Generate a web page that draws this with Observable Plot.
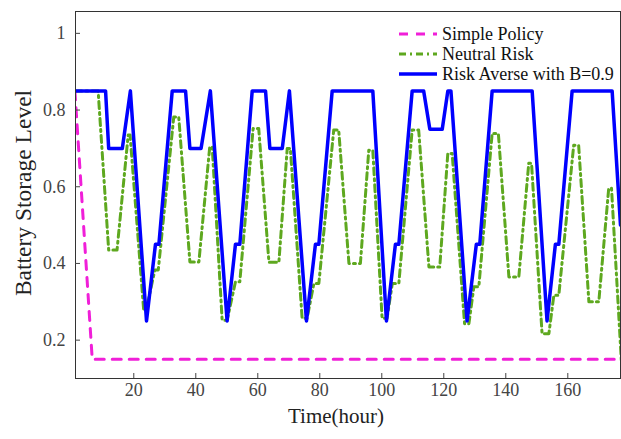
<!DOCTYPE html>
<html><head><meta charset="utf-8">
<script src="https://cdn.jsdelivr.net/npm/d3@7"></script>
<script src="https://cdn.jsdelivr.net/npm/@observablehq/plot@0.6"></script>
<style>
body{margin:0;background:#fff;}
#wrap{position:relative;width:621px;height:439px;}
#wrap svg text{font-family:"Liberation Serif","Times New Roman",serif;}
.legend{position:absolute;left:398px;top:24px;font-family:"Liberation Serif",serif;font-size:18px;color:#111;}
.legend .row{display:flex;align-items:center;height:20px;white-space:nowrap;}
.legend svg{margin-right:4px;}
</style></head><body><div id="wrap"></div>
<script>
const xTicks = [20, 40, 60, 80, 100, 120, 140, 160];
const yTicks = [0.2, 0.4, 0.6, 0.8, 1];

const simpleHours = [1, 6.6, 177];
const simpleValues = [0.85, 0.15, 0.15];

const neutralHours = [1, 8.5, 11.9, 14.6, 18.2, 18.8, 23.2, 24, 26.8, 27.9, 32.9, 34.5, 38.1, 41, 44.5, 45.3, 48.5, 50.1, 52.8, 54.2, 58.5, 60.3, 63.6, 66.8, 69.5, 70.5, 74.3, 75.9, 78.1, 79.7, 84.5, 86.1, 89.4, 93.1, 95.8, 97.1, 100.1, 101.7, 103.4, 105.5, 109.8, 111.9, 115.2, 118.7, 121.3, 122.7, 126.7, 128.1, 129.7, 131.3, 135.6, 137.6, 141, 144.2, 147.4, 148.3, 151.7, 153.9, 155.5, 157.1, 161.9, 163.5, 166.8, 170, 173.2, 174.1, 177.3];
const neutralValues = [0.85, 0.85, 0.435, 0.435, 0.735, 0.735, 0.278, 0.278, 0.383, 0.383, 0.782, 0.782, 0.404, 0.404, 0.704, 0.704, 0.252, 0.252, 0.352, 0.352, 0.752, 0.752, 0.403, 0.403, 0.70, 0.70, 0.257, 0.257, 0.348, 0.348, 0.748, 0.748, 0.40, 0.40, 0.695, 0.695, 0.257, 0.257, 0.348, 0.348, 0.748, 0.748, 0.391, 0.391, 0.687, 0.687, 0.243, 0.243, 0.339, 0.339, 0.739, 0.739, 0.365, 0.365, 0.661, 0.661, 0.217, 0.217, 0.317, 0.317, 0.708, 0.708, 0.30, 0.30, 0.596, 0.596, 0.143];

const averseHours = [1, 10.9, 11.9, 16.3, 18.9, 24.1, 27, 28.1, 32.4, 36.7, 38.1, 41.7, 44.7, 50.1, 52.8, 54.2, 58.2, 62.5, 63.9, 67.9, 70.2, 75.7, 78.6, 79.7, 84, 97.1, 101.5, 104.4, 105.5, 109.8, 113.5, 115.5, 119.5, 121.3, 122.3, 127.5, 130.5, 131.6, 135.6, 148.5, 153.3, 156, 157.1, 161.4, 174.3, 177];
const averseValues = [0.85, 0.85, 0.7, 0.7, 0.85, 0.25, 0.45, 0.45, 0.85, 0.85, 0.7, 0.7, 0.85, 0.25, 0.45, 0.45, 0.85, 0.85, 0.7, 0.7, 0.85, 0.25, 0.45, 0.45, 0.85, 0.85, 0.25, 0.45, 0.45, 0.85, 0.85, 0.75, 0.75, 0.85, 0.85, 0.25, 0.45, 0.45, 0.85, 0.85, 0.25, 0.45, 0.45, 0.85, 0.85, 0.5];

const seriesNames = ["Simple Policy", "Neutral Risk", "Risk Averse with B=0.9"];
const seriesColors = ["#f01fd8", "#5ea81f", "#0000ff"];
const seriesDash = ["9,8", "7,4,2,4", null];
const seriesWidth = [3, 3, 3.5];

const toRows = (h, v) => h.map((x, i) => ({hour: x, value: v[i]}));
const data = [toRows(simpleHours, simpleValues), toRows(neutralHours, neutralValues), toRows(averseHours, averseValues)];

const font = '"Liberation Serif", "Times New Roman", serif';

const chart = Plot.plot({
  width: 621, height: 439,
  marginLeft: 75, marginRight: 1, marginTop: 11, marginBottom: 61,
  style: {fontFamily: font, fontSize: "18px", color: "#444", background: "white"},
  x: {domain: [1.2, 177]},
  y: {domain: [0.1, 1.057]},
  marks: [
    ...data.map((d, i) => Plot.line(d, {x: "hour", y: "value", stroke: seriesColors[i], strokeWidth: seriesWidth[i], strokeDasharray: seriesDash[i], clip: true})),
    Plot.frame({stroke: "#333"}),
    Plot.axisX({ticks: xTicks, tickSize: -5, tickPadding: 10, label: null, fontFamily: font, fontSize: 18, tickFormat: d => String(d)}),
    Plot.axisY({ticks: yTicks, tickSize: -5, tickPadding: 15, label: null, fontFamily: font, fontSize: 18, tickFormat: d => String(d)}),
    Plot.text(["Time(hour)"], {text: d => d, frameAnchor: "bottom", dx: -12, dy: 44, fontSize: 21, fontFamily: font, fill: "#222"}),
    Plot.text(["Battery Storage Level"], {text: d => d, frameAnchor: "left", textAnchor: "middle", dx: -52, dy: -2, rotate: -90, fontSize: 23.5, fontFamily: font, fill: "#222"})
  ]
});
const wrap = document.getElementById("wrap");
wrap.appendChild(chart);

const legend = document.createElement("div");
legend.className = "legend";
seriesNames.forEach((name, i) => {
  const row = document.createElement("div");
  row.className = "row";
  const svg = d3.create("svg").attr("width", 40).attr("height", 20);
  svg.append("line").attr("x1", 1).attr("x2", 39).attr("y1", 10).attr("y2", 10)
    .attr("stroke", seriesColors[i]).attr("stroke-width", seriesWidth[i])
    .attr("stroke-dasharray", seriesDash[i]);
  row.appendChild(svg.node());
  const span = document.createElement("span");
  span.textContent = name;
  row.appendChild(span);
  legend.appendChild(row);
});
wrap.appendChild(legend);
</script>
</body></html>
